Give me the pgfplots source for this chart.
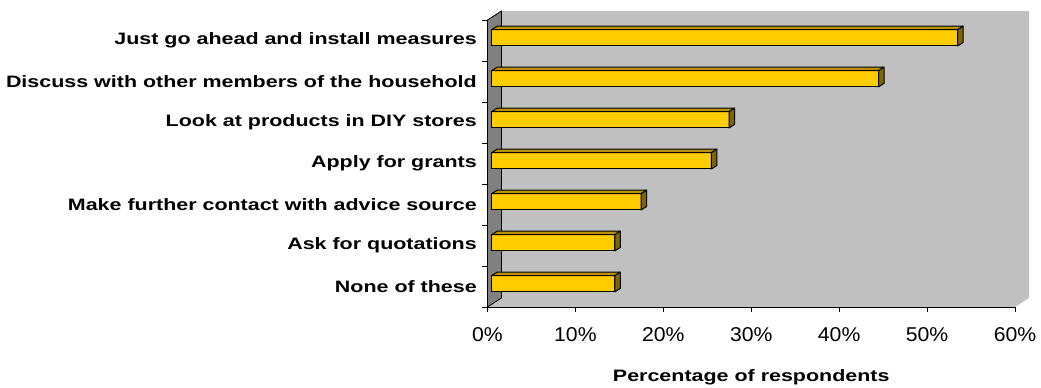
\documentclass[border=0pt]{standalone}
\usepackage{fontspec}
\setmainfont{Liberation Sans}
\newfontfamily\lblfont[FakeStretch=1.3]{Liberation Sans}
\newfontfamily\tickfont[FakeStretch=1.06]{Liberation Sans}
\usepackage{pgfplots}
\usepackage{pgfplotstable}
\pgfplotsset{compat=1.18}
\definecolor{barfront}{HTML}{FFCC00}
\definecolor{bartop}{HTML}{B89200}
\definecolor{barside}{HTML}{806600}
\definecolor{backwall}{HTML}{C0C0C0}
\definecolor{sidewall}{HTML}{808080}

\pgfplotstableread{
y v
1 14
2 14
3 17
4 25
5 27
6 44
7 53
}\bardata

\begin{document}
\begin{tikzpicture}
\begin{axis}[
 scale only axis, width=527.5pt, height=287pt,
 xmin=0, xmax=60, ymin=0.5, ymax=7.5,
 clip=false, axis on top,
 axis x line*=bottom, axis y line*=left,
 axis line style={line width=0.9pt, -},
 xtick={0,10,...,60},
 xticklabels={0\%,10\%,20\%,30\%,40\%,50\%,60\%},
 ytick={0.5,1.5,...,7.5},
 yticklabels={{},None of these,Ask for quotations,Make further contact with advice source,Apply for grants,Look at products in DIY stores,Discuss with other members of the household,Just go ahead and install measures},
 tick align=outside, major tick length=5pt,
 tick style={line width=0.8pt, black},
 xticklabel style={font=\tickfont\fontsize{20}{24}\selectfont, inner sep=0pt, anchor=north, yshift=-15pt},
 yticklabel style={font=\lblfont\bfseries\fontsize{16.5}{20}\selectfont, inner sep=0pt, anchor=east, yshift=-20.5pt, xshift=-5.5pt},
 xlabel={Percentage of respondents},
 every axis x label/.style={at={(axis description cs:0.5,0)}, anchor=north, yshift=-62pt, inner sep=0pt, font=\lblfont\bfseries\fontsize{16.5}{20}\selectfont},
]
\fill[backwall] (axis cs:0,0.5) -- (axis cs:60,0.5) -- ([shift={(14pt,9pt)}]axis cs:60,0.5) -- ([shift={(14pt,9pt)}]axis cs:60,7.5) -- ([shift={(14pt,9pt)}]axis cs:0,7.5) -- (axis cs:0,7.5) -- cycle;
\filldraw[fill=sidewall, draw=black, line width=0.8pt] (axis cs:0,0.5) -- ([shift={(14pt,9pt)}]axis cs:0,0.5) -- ([shift={(14pt,9pt)}]axis cs:0,7.5) -- (axis cs:0,7.5) -- cycle;

\addplot[scatter, only marks, mark=*, mark size=0pt, mark options={draw=none, fill=none}, xshift=4.2pt, yshift=2.7pt,
 visualization depends on={\thisrow{v} \as \barval},
 scatter/@pre marker code/.code={
   \pgfmathsetmacro{\barlen}{\barval*8.7917}
   \filldraw[fill=bartop, draw=black, line width=1pt, line join=round] ({-\barlen pt},8.15pt) -- (0pt,8.15pt) -- (5.5pt,11.65pt) -- ({-\barlen pt+5.5pt},11.65pt) -- cycle;
   \filldraw[fill=barside, draw=black, line width=1pt, line join=round] (0pt,-8.15pt) -- (0pt,8.15pt) -- (5.5pt,11.65pt) -- (5.5pt,-4.65pt) -- cycle;
 },
 scatter/@post marker code/.code={},
] table[x=v,y=y] {\bardata};

\addplot[xbar, bar width=16.3pt, fill=barfront, draw=black, line width=1pt, xshift=4.2pt, yshift=2.7pt] table[x=v,y=y] {\bardata};

\coordinate (O) at (axis cs:0,0.5);
\end{axis}
\pgfresetboundingbox
\path[use as bounding box] ([shift={(-487.5pt,-81pt)}]O) rectangle ([shift={(553.5pt,307pt)}]O);
\end{tikzpicture}
\end{document}
